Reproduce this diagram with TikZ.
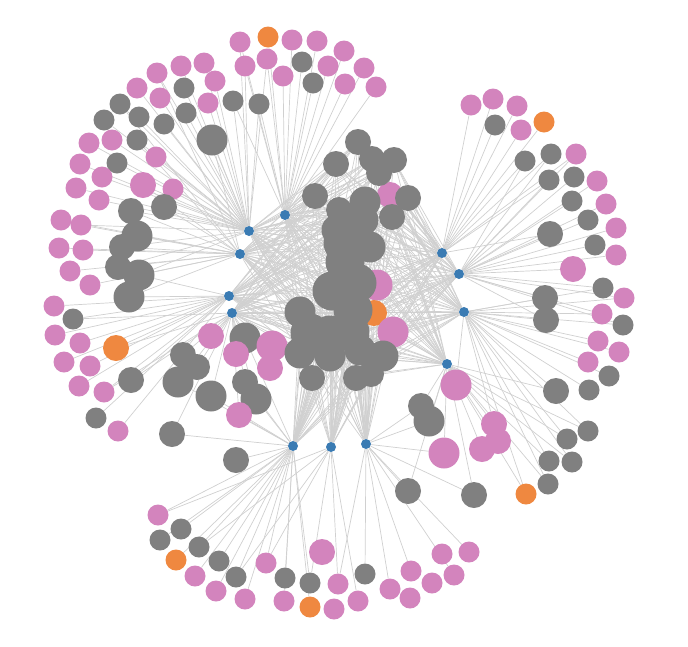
\documentclass[tikz,border=0pt]{standalone}
\usepackage{tikz}
\usetikzlibrary{backgrounds}
\definecolor{nodegray}{HTML}{808080}
\definecolor{nodepink}{HTML}{D384BD}
\definecolor{nodeorange}{HTML}{EF8840}
\definecolor{hubblue}{HTML}{3A7BB3}
\definecolor{edgegray}{HTML}{D0D0D0}
\begin{document}
\begin{tikzpicture}
[x=1pt,y=-1pt,
 dot/.style={circle,inner sep=0pt},
 pk/.style={dot,fill=nodepink,minimum size=21pt},
 pkm/.style={dot,fill=nodepink,minimum size=26pt},
 pkl/.style={dot,fill=nodepink,minimum size=31pt},
 gr/.style={dot,fill=nodegray,minimum size=21pt},
 grm/.style={dot,fill=nodegray,minimum size=26pt},
 grl/.style={dot,fill=nodegray,minimum size=31pt},
 grx/.style={dot,fill=nodegray,minimum size=39pt},
 og/.style={dot,fill=nodeorange,minimum size=21pt},
 ogm/.style={dot,fill=nodeorange,minimum size=26pt},
 hub/.style={dot,fill=hubblue,minimum size=10pt},
 e/.style={draw=edgegray,line width=0.7pt}]
\useasboundingbox (0,0) rectangle (688,646);
% top arc
\foreach \n/\x/\y/\s in {t1/240/42/pk,t2/268/37/og,t3/292/40/pk,t4/317/41/pk,
  t5/344/51/pk,t6/245/66/pk,t7/267/59/pk,t8/302/62/gr,t9/328/66/pk,t10/283/76/pk,
  t11/313/83/gr,t12/345/84/pk,t13/364/68/pk,t14/376/87/pk,t15/233/101/gr,t16/259/104/gr}
  \node[\s] (\n) at (\x,\y) {};
% upper left
\foreach \n/\x/\y/\s in {u1/204/63/pk,u2/181/66/pk,u3/157/73/pk,u4/215/81/pk,
  u5/184/88/gr,u6/137/88/pk,u7/160/98/pk,u8/120/104/gr,u9/104/120/gr,u10/139/117/gr,
  u11/164/124/gr,u12/186/113/gr,u13/208/103/pk,u14/212/140/grl,u15/89/143/pk,
  u16/112/140/pk,u17/137/140/gr,u18/117/163/gr,u19/156/157/pk,u20/80/164/pk,
  u21/102/177/pk,u22/143/185/pkm,u23/173/189/pk,u24/76/188/pk,u25/99/200/pk,
  u26/131/211/grm,u27/164/207/grm}
  \node[\s] (\n) at (\x,\y) {};
% left
\foreach \n/\x/\y/\s in {l1/61/220/pk,l2/81/225/pk,l3/137/236/grl,l4/122/247/grm,
  l5/59/248/pk,l6/83/250/pk,l7/118/267/grm,l8/139/275/grl,l9/70/271/pk,l10/90/285/pk,
  l11/129/297/grl,l12/54/306/pk,l13/73/319/gr,l14/55/335/pk,l15/80/343/pk,
  l16/116/348/ogm,l17/64/362/pk,l18/90/366/pk,l19/131/380/grm,l20/79/386/pk,
  l21/104/392/pk,l22/96/418/gr,l23/118/431/pk,l24/172/434/grm,l25/236/460/grm}
  \node[\s] (\n) at (\x,\y) {};
% inner left
\foreach \n/\x/\y/\s in {i1/211/336/pkm,i2/245/338/grl,i3/183/355/grm,i4/197/367/grm,
  i5/178/382/grl,i6/211/396/grl,i7/236/354/pkm,i8/272/346/pkl,i9/270/368/pkm,
  i10/245/382/grm,i11/256/399/grl,i12/239/415/pkm,i13/312/378/grm}
  \node[\s] (\n) at (\x,\y) {};
% top right and right
\foreach \n/\x/\y/\s in {q1/471/105/pk,q2/493/99/pk,q3/517/106/pk,q4/544/122/og,
  q5/495/125/gr,q6/521/130/pk}
  \node[\s] (\n) at (\x,\y) {};
\foreach \n/\x/\y/\s in {r1/525/161/gr,r2/551/154/gr,r3/576/154/pk,r4/549/180/gr,
  r5/574/177/gr,r6/597/181/pk,r7/572/201/gr,r8/606/204/pk,r9/588/220/gr,
  r10/616/228/pk,r11/550/234/grm,r12/595/245/gr,r13/616/255/pk,r14/573/269/pkm,
  r15/603/288/gr,r16/624/298/pk,r17/545/298/grm,r18/602/314/pk,r19/623/325/gr,
  r20/546/320/grm}
  \node[\s] (\n) at (\x,\y) {};
% lower right
\foreach \n/\x/\y/\s in {s1/598/341/pk,s2/619/352/pk,s3/588/362/pk,s4/609/376/gr,
  s5/556/391/grm,s6/589/390/gr,s7/588/431/gr,s8/567/439/gr,s9/549/461/gr,
  s10/572/462/gr,s11/548/484/gr,s12/526/494/og,s13/456/385/pkl,s14/421/406/grm,
  s15/429/421/grl,s16/494/424/pkm,s17/498/441/pkm,s18/482/449/pkm,s19/444/453/pkl,
  s20/408/491/grm,s21/474/495/grm}
  \node[\s] (\n) at (\x,\y) {};
% bottom
\foreach \n/\x/\y/\s in {m1/158/515/pk,m2/181/529/gr,m3/160/540/gr,m4/199/547/gr,
  m5/176/560/og,m6/219/561/gr,m7/195/576/pk,m8/236/577/gr,m9/216/591/pk,
  m10/245/599/pk,m11/266/563/pk,m12/285/578/gr,m13/284/601/pk,m14/310/583/gr,
  m15/310/607/og,m16/322/552/pkm,m17/338/584/pk,m18/334/609/pk,m19/365/574/gr,
  m20/358/601/pk,m21/390/589/pk,m22/410/598/pk,m23/411/571/pk,m24/432/583/pk,
  m25/454/575/pk,m26/442/554/pk,m27/469/552/pk}
  \node[\s] (\n) at (\x,\y) {};
% centre
\foreach \n/\x/\y/\s in {c9/390/195/pkm,c16/377/285/pkl,c17/374/313/ogm,c22/393/332/pkl,
  c1/336/164/grm,c2/358/142/grm,c3/372/159/grm,c4/394/160/grm,c5/379/173/grm,
  c6/315/196/grm,c7/339/210/grm,c8/365/202/grl,c10/408/198/grm,c11/392/217/grm,
  c12/363/220/grl,c32/337/230/grl,c13/343/243/grx,c14/370/247/grl,c15/345/262/grx,
  c18/357/283/grx,c19/332/291/grx,c20/300/312/grl,c21/353/310/grx,c23/310/333/grx,
  c24/350/332/grx,c25/330/335/grx,c26/383/356/grl,c27/300/353/grl,c28/330/356/grl,
  c29/360/350/grl,c30/356/378/grm,c31/371/374/grm}
  \node[\s] (\n) at (\x,\y) {};
% hubs
\foreach \n/\x/\y in {h1/285/215,h2/249/231,h3/240/254,h4/229/296,h5/232/313,
  h6/442/253,h7/459/274,h8/464/312,h9/447/364,h10/293/446,h11/331/447,h12/366/444}
  \node[hub] (\n) at (\x,\y) {};
\begin{pgfonlayer}{background}
\foreach \i in {1,...,16} \draw[e] (t\i) -- (h1);
\foreach \i in {1,6,7,15,16} \draw[e] (t\i) -- (h2);
\foreach \i in {1,...,27} \draw[e] (u\i) -- (h2);
\foreach \i in {3,8,14,17,22,26,27} \draw[e] (u\i) -- (h3);
\foreach \i in {1,...,11} \draw[e] (l\i) -- (h3);
\foreach \i in {2,4,7,8} \draw[e] (l\i) -- (h2);
\foreach \i in {8,11,12,...,23} \draw[e] (l\i) -- (h4);
\foreach \i in {13,16,19,21,24} \draw[e] (l\i) -- (h5);
\foreach \i in {24,25} \draw[e] (l\i) -- (h10);
\foreach \i in {1,...,12} \draw[e] (i\i) -- (h5);
\foreach \i in {2,5,6,10,11,12,13} \draw[e] (i\i) -- (h10);
\draw[e] (i13) -- (h11);
\foreach \i in {1,...,15} \draw[e] (m\i) -- (h10);
\foreach \i in {1,4,8,11,...,20} \draw[e] (m\i) -- (h11);
\foreach \i in {17,19,...,27} \draw[e] (m\i) -- (h12);
\foreach \i in {1,...,6} \draw[e] (q\i) -- (h6);
\foreach \i in {1,...,20} \draw[e] (r\i) -- (h7);
\foreach \i in {1,2,3,4,11} \draw[e] (r\i) -- (h6);
\foreach \i in {15,...,20} \draw[e] (r\i) -- (h8);
\foreach \i in {1,...,13,16} \draw[e] (s\i) -- (h8);
\foreach \i in {5,7,8,9,10,11,12,13,...,21} \draw[e] (s\i) -- (h9);
\foreach \i in {14,15,19,20,21} \draw[e] (s\i) -- (h12);
\foreach \i in {1,...,32} \foreach \h in {1,...,12} \draw[e] (c\i) -- (h\h);
\end{pgfonlayer}
\end{tikzpicture}
\end{document}
